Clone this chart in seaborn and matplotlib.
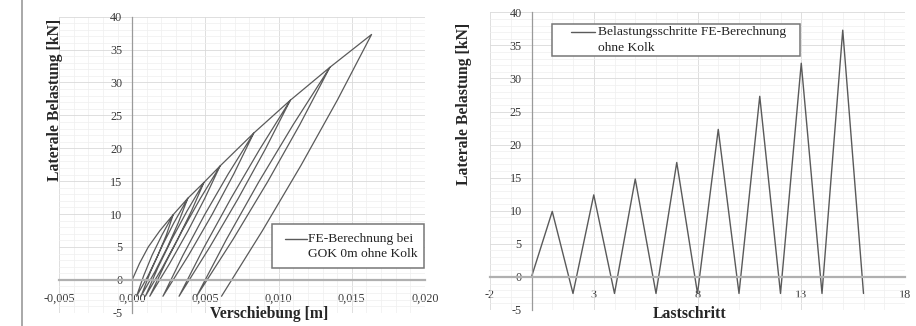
import matplotlib
matplotlib.use("Agg")
import matplotlib.pyplot as plt
from matplotlib.ticker import MultipleLocator, FuncFormatter, FixedLocator
from matplotlib.lines import Line2D
from matplotlib.patches import Rectangle
import seaborn as sns
import pandas as pd

# ---------------- data ----------------
# left chart: load-displacement hysteresis (Verschiebung [m], Belastung [kN])
virgin_disp = [0.0, 0.0005, 0.0011, 0.0019]
virgin_load = [0.0, 2.5, 5.0, 7.5]
peak_disp = [0.0028, 0.0038, 0.0049, 0.0060, 0.0083, 0.0108, 0.0135, 0.01635]
peak_load = [9.9, 12.4, 14.8, 17.3, 22.3, 27.3, 32.3, 37.3]
valley_disp = [0.0003, 0.0006, 0.0009, 0.0012, 0.0021, 0.0032, 0.0044, 0.0061]
valley_load = [-2.5, -2.5, -2.5, -2.5, -2.5, -2.5, -2.5, -2.5]
# loads of the intermediate points read along each unloading / reloading branch
branch_load = [
    [6.8, 3.7, 0.6],
    [8.675, 4.95, 1.225],
    [10.475, 6.15, 1.825],
    [12.35, 7.4, 2.45],
    [16.1, 9.9, 3.7],
    [19.85, 12.4, 4.95],
    [23.6, 14.9, 6.2],
    [27.35, 17.4, 7.45],
]
unload_disp = [
    [0.00233, 0.00175, 0.00108],
    [0.00315, 0.0024, 0.00155],
    [0.00405, 0.0031, 0.00205],
    [0.00495, 0.0038, 0.00255],
    [0.00694, 0.00545, 0.00384],
    [0.00909, 0.00725, 0.00529],
    [0.01145, 0.00925, 0.0069],
    [0.01402, 0.01153, 0.00889],
]
reload_disp = [
    [0.00203, 0.00135, 0.00078],
    [0.00285, 0.0020, 0.00125],
    [0.00375, 0.0027, 0.00175],
    [0.00465, 0.0034, 0.00225],
    [0.00656, 0.00495, 0.00346],
    [0.00871, 0.00675, 0.00491],
    [0.0110, 0.00865, 0.00645],
]

# right chart: load steps
load_steps = [0, 9.9, -2.5, 12.4, -2.5, 14.8, -2.5, 17.3, -2.5,
              22.3, -2.5, 27.3, -2.5, 32.3, -2.5, 37.3, -2.5]
step_no = list(range(len(load_steps)))

left_xticks = [-0.005, 0.0, 0.005, 0.010, 0.015, 0.020]
right_xticks = [-2, 3, 8, 13, 18]
yticks = [-5, 0, 5, 10, 15, 20, 25, 30, 35, 40]

# ---------------- ordered path of the hysteresis ----------------
disp = list(virgin_disp)
load = list(virgin_load)
for k in range(len(peak_disp)):
    disp += [peak_disp[k]] + unload_disp[k] + [valley_disp[k]]
    load += [peak_load[k]] + branch_load[k] + [valley_load[k]]
    if k < len(reload_disp):
        disp += reload_disp[k][::-1] + [peak_disp[k]]
        load += branch_load[k][::-1] + [peak_load[k]]
df_left = pd.DataFrame({"disp": disp, "load": load})
df_right = pd.DataFrame({"step": step_no, "load": load_steps})

# ---------------- style ----------------
sns.set_style("white")
plt.rcParams["font.family"] = ["Liberation Serif", "DejaVu Serif"]
plt.rcParams["axes.unicode_minus"] = False

W, H = 916, 326
fig = plt.figure(figsize=(W / 100, H / 100), dpi=100)

ax1 = fig.add_axes([59 / W, 1 - 312.7 / H, 366 / W, 296 / H])
ax2 = fig.add_axes([490 / W, 1 - 310 / H, 415 / W, 297.7 / H])

line_col = "#5a5a5a"
sns.lineplot(data=df_left, x="disp", y="load", sort=False, estimator=None,
             ax=ax1, color=line_col, lw=0.9, legend=False)
sns.lineplot(data=df_right, x="step", y="load", sort=False, estimator=None,
             ax=ax2, color=line_col, lw=1.0, legend=False)


def comma_fmt(v, pos):
    s = f"{v:.3f}".replace(".", ",")
    if s == "-0,000":
        s = "0,000"
    return s


for ax, xlim, xt, xminor in [(ax1, (-0.005, 0.020), left_xticks, 0.001),
                             (ax2, (-2, 18), right_xticks, 1)]:
    ax.set_xlim(*xlim)
    ax.set_ylim(-5, 40)
    ax.xaxis.set_major_locator(FixedLocator(xt))
    ax.xaxis.set_minor_locator(MultipleLocator(xminor))
    ax.yaxis.set_major_locator(FixedLocator(yticks))
    ax.yaxis.set_minor_locator(MultipleLocator(1))
    ax.grid(which="major", color="#d9d9d9", lw=0.6)
    ax.grid(which="minor", color="#efefef", lw=0.5)
    ax.set_axisbelow(True)
    for s in ["top", "right"]:
        ax.spines[s].set_visible(False)
    ax.spines["left"].set_position(("data", 0))
    ax.spines["bottom"].set_position(("data", 0))
    ax.spines["left"].set_color("#9a9a9a")
    ax.spines["bottom"].set_color("#b0b0b0")
    ax.spines["left"].set_linewidth(0.9)
    ax.spines["bottom"].set_linewidth(1.6)
    ax.tick_params(which="major", direction="out", length=4, width=0.8,
                   color="#9a9a9a", labelsize=8.7, labelcolor="#3a3a3a")
    ax.tick_params(axis="x", pad=5)
    ax.tick_params(axis="y", pad=3)
    ax.tick_params(which="minor", length=0)
    ax.set_xlabel("")
    ax.set_ylabel("")

ax1.xaxis.set_major_formatter(FuncFormatter(comma_fmt))
ax2.xaxis.set_major_formatter(FuncFormatter(lambda v, p: f"{v:g}"))


# ---------------- legends (Excel-style boxes) ----------------
def fx(px):
    return px / W


def fy(py):
    return 1 - py / H


def legend_box(x0, y0, x1, y1, hx0, hx1, hy, tx, lines):
    fig.add_artist(Rectangle((fx(x0), fy(y1)), fx(x1) - fx(x0), fy(y0) - fy(y1),
                             transform=fig.transFigure, facecolor="white",
                             edgecolor="#777777", lw=1.1, zorder=5))
    fig.add_artist(Line2D([fx(hx0), fx(hx1)], [fy(hy), fy(hy)],
                          transform=fig.transFigure, color=line_col, lw=1.0,
                          zorder=6))
    for txt, ty in lines:
        fig.text(fx(tx), fy(ty), txt, ha="left", va="center", fontsize=9.7,
                 color="#222222", zorder=6)


legend_box(271.7, 224.3, 424.3, 267.7, 285, 306.7, 239.3, 308.5,
           [("FE-Berechnung bei", 239.3), ("GOK 0m ohne Kolk", 254.3)])
legend_box(552.3, 24.3, 800, 55.7, 571, 595, 31.7, 597.7,
           [("Belastungsschritte FE-Berechnung", 31.7), ("ohne Kolk", 48.3)])

# ---------------- axis titles ----------------
fig.text(269 / W, 1 - 314 / H, "Verschiebung [m]", ha="center", va="center",
         fontsize=11.3, fontweight="bold")
fig.text(690 / W, 1 - 314 / H, "Lastschritt", ha="center", va="center",
         fontsize=11.3, fontweight="bold")
fig.text(55 / W, 1 - 100 / H, "Laterale Belastung [kN]", ha="center",
         va="center", rotation=90, fontsize=11.3, fontweight="bold")
fig.text(464 / W, 1 - 104 / H, "Laterale Belastung [kN]", ha="center",
         va="center", rotation=90, fontsize=11.3, fontweight="bold")

# page border line at the left
fig.add_artist(Line2D([22 / W, 22 / W], [0, 1], transform=fig.transFigure,
                      color="#9a9a9a", lw=1.2))

fig.savefig("out.png", dpi=100)
